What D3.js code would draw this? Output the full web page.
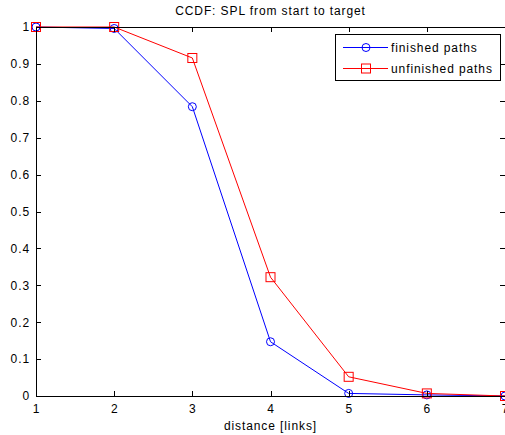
<!DOCTYPE html>
<html>
<head>
<meta charset="utf-8">
<script src="https://cdn.jsdelivr.net/npm/d3@7"></script>
<style>
  body { margin: 0; background: #fff; }
  text { font-family: "Liberation Sans", Arial, sans-serif; font-size: 12px; letter-spacing: 0.9px; fill: #000; }
</style>
</head>
<body>
<div id="chart"></div>
<script>
var width = 505
var height = 435

// chart values
var distances = [1, 2, 3, 4, 5, 6, 7]
var finishedPaths = [1, 0.996, 0.784, 0.147, 0.007, 0.003, 0]
var unfinishedPaths = [1, 1, 0.916, 0.322, 0.052, 0.007, 0]
var xTicks = [1, 2, 3, 4, 5, 6, 7]
var yTicks = [0, 0.1, 0.2, 0.3, 0.4, 0.5, 0.6, 0.7, 0.8, 0.9, 1]
var seriesNames = ["finished paths", "unfinished paths"]
var seriesColours = ["#0000ff", "#ff0000"]

var plotLeft = 36, plotRight = 505, plotTop = 27, plotBottom = 396

var svg = d3.select("#chart")
    .append("svg")
        .attr("width", width)
        .attr("height", height)

var x = d3.scaleLinear().domain([1, 7]).range([plotLeft, plotRight])
var y = d3.scaleLinear().domain([0, 1]).range([plotBottom, plotTop])

var line = d3.line()
    .x(function(d){ return x(d[0]) })
    .y(function(d){ return y(d[1]) })

var series = [finishedPaths, unfinishedPaths]

series.forEach(function(vals, i){
    var pts = distances.map(function(d, j){ return [d, vals[j]] })
    svg.append("path")
        .attr("d", line(pts))
        .attr("fill", "none")
        .attr("stroke", seriesColours[i])
        .attr("stroke-width", 1)
    if(i === 0){
        svg.append("g").selectAll("circle")
            .data(pts)
            .enter()
            .append("circle")
            .attr("cx", function(d){ return x(d[0]) })
            .attr("cy", function(d){ return y(d[1]) })
            .attr("r", 4)
            .attr("fill", "none")
            .attr("stroke", seriesColours[i])
    } else {
        svg.append("g").selectAll("rect")
            .data(pts)
            .enter()
            .append("rect")
            .attr("x", function(d){ return x(d[0]) - 4.5 })
            .attr("y", function(d){ return y(d[1]) - 4.5 })
            .attr("width", 9)
            .attr("height", 9)
            .attr("fill", "none")
            .attr("stroke", seriesColours[i])
    }
})

// axes box on top
var axes = svg.append("g").attr("shape-rendering", "crispEdges")

axes.append("g")
    .attr("transform", "translate(0," + plotBottom + ")")
    .call(d3.axisBottom(x).tickValues(xTicks).tickSizeInner(-5).tickSizeOuter(0).tickPadding(8).tickFormat(d3.format("d")))
axes.append("g")
    .attr("transform", "translate(0," + plotTop + ")")
    .call(d3.axisTop(x).tickValues(xTicks).tickSizeInner(-5).tickSizeOuter(0).tickFormat(""))
axes.append("g")
    .attr("transform", "translate(" + plotLeft + ",0)")
    .call(d3.axisLeft(y).tickValues(yTicks).tickSizeInner(-5).tickSizeOuter(0).tickPadding(6).tickFormat(function(d){ return String(+d.toFixed(1)) }))
axes.append("g")
    .attr("transform", "translate(" + plotRight + ",0)")
    .call(d3.axisRight(y).tickValues(yTicks).tickSizeInner(-5).tickSizeOuter(0).tickFormat(""))

axes.selectAll(".domain").attr("stroke", "#000")
axes.selectAll(".tick line").attr("stroke", "#000")
axes.selectAll("text")
    .attr("font-family", null)
    .attr("font-size", null)
    .attr("fill", "#000")

// title and label
svg.append("text")
    .attr("x", (plotLeft + plotRight) / 2)
    .attr("y", 15)
    .attr("text-anchor", "middle")
    .text("CCDF: SPL from start to target")

svg.append("text")
    .attr("x", (plotLeft + plotRight) / 2)
    .attr("y", 430)
    .attr("text-anchor", "middle")
    .text("distance [links]")

// legend
var legend = svg.append("g")
legend.append("rect")
    .attr("x", 335.5)
    .attr("y", 34.5)
    .attr("width", 165)
    .attr("height", 46)
    .attr("fill", "#fff")
    .attr("stroke", "#000")
    .attr("shape-rendering", "crispEdges")

seriesNames.forEach(function(name, i){
    var ly = 47.5 + i * 21
    legend.append("line")
        .attr("x1", 343).attr("x2", 388)
        .attr("y1", ly).attr("y2", ly)
        .attr("stroke", seriesColours[i])
    if(i === 0){
        legend.append("circle")
            .attr("cx", 366).attr("cy", ly).attr("r", 4)
            .attr("fill", "none").attr("stroke", seriesColours[i])
    } else {
        legend.append("rect")
            .attr("x", 366 - 4.5).attr("y", ly - 4.5)
            .attr("width", 9).attr("height", 9)
            .attr("fill", "none").attr("stroke", seriesColours[i])
    }
    legend.append("text")
        .attr("x", 391)
        .attr("y", ly + 4.5)
        .text(name)
})
</script>
</body>
</html>
